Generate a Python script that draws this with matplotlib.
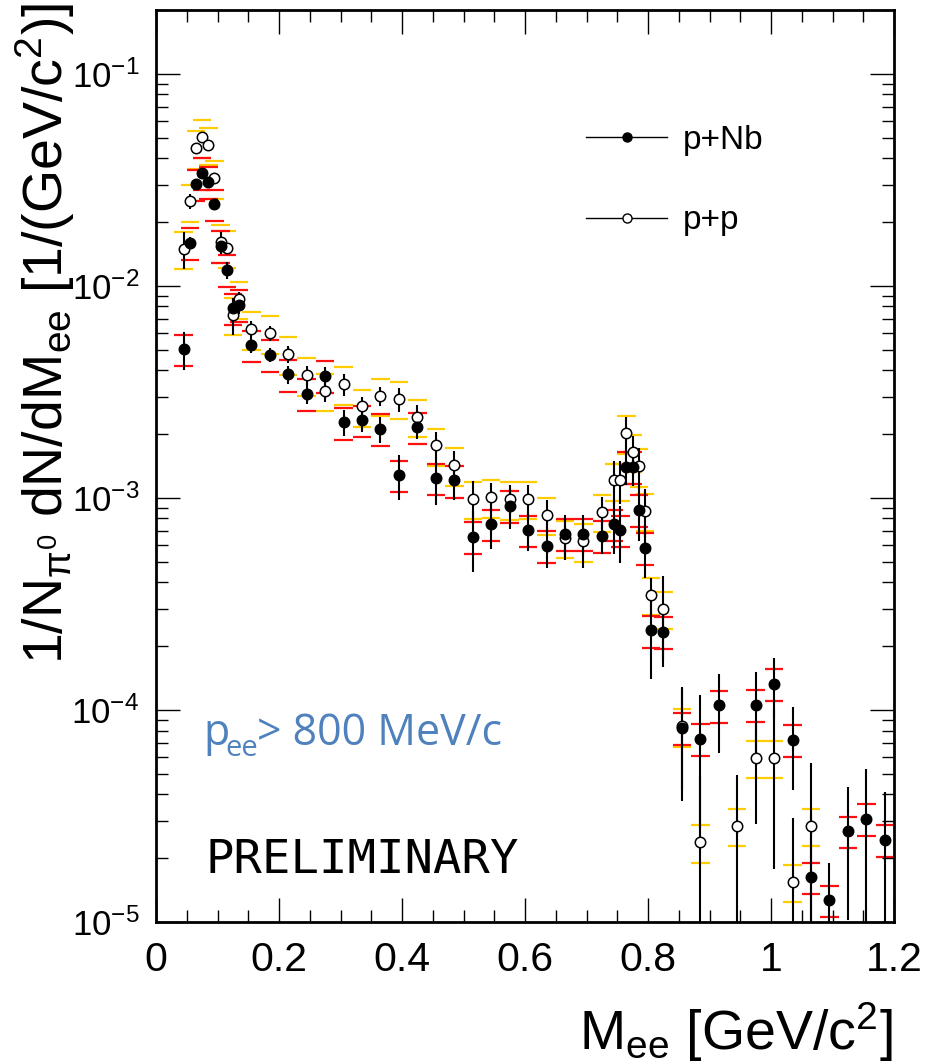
import numpy as np
import matplotlib
matplotlib.use("Agg")
import matplotlib.pyplot as plt
from matplotlib.ticker import FixedLocator, FixedFormatter, MultipleLocator, LogLocator, NullFormatter
from matplotlib.lines import Line2D

# ---------------- data ----------------
mass = [0.045, 0.055, 0.065, 0.075, 0.085, 0.095, 0.105, 0.115, 0.125, 0.135,
        0.155, 0.185, 0.215, 0.245, 0.275, 0.305, 0.335, 0.365, 0.395, 0.425,
        0.455, 0.485, 0.515, 0.545, 0.575, 0.605, 0.635, 0.665, 0.695, 0.725,
        0.745, 0.755, 0.765, 0.775, 0.785, 0.795, 0.805, 0.825,
        0.855, 0.885, 0.915, 0.945, 0.975, 1.005, 1.035, 1.065, 1.095, 1.125, 1.155, 1.185]

pNb = [5.04e-3, 1.60e-2, 3.02e-2, 3.42e-2, 3.10e-2, 2.43e-2, 1.55e-2, 1.19e-2, 7.85e-3, 8.16e-3,
       5.26e-3, 4.73e-3, 3.82e-3, 3.10e-3, 3.77e-3, 2.27e-3, 2.33e-3, 2.12e-3, 1.28e-3, 2.16e-3,
       1.24e-3, 1.21e-3, 6.57e-4, 7.52e-4, 9.17e-4, 7.06e-4, 5.96e-4, 6.79e-4, 6.79e-4, 6.64e-4,
       7.52e-4, 7.06e-4, 1.40e-3, 1.40e-3, 8.78e-4, 5.83e-4, 2.37e-4, 2.34e-4,
       8.25e-5, 7.30e-5, 1.05e-4, np.nan, 1.06e-4, 1.33e-4, 7.24e-5, 1.63e-5, 1.27e-5, 2.68e-5, 3.07e-5, 2.44e-5]

pp = [1.50e-2, 2.50e-2, 4.46e-2, 5.03e-2, 4.62e-2, 3.22e-2, 1.61e-2, 1.51e-2, 7.30e-3, 8.70e-3,
      6.25e-3, 5.98e-3, 4.76e-3, 3.79e-3, 3.21e-3, 3.44e-3, 2.70e-3, 3.03e-3, 2.93e-3, 2.42e-3,
      1.77e-3, 1.43e-3, 9.89e-4, 1.01e-3, 9.86e-4, 9.93e-4, 8.32e-4, 6.50e-4, 6.25e-4, 8.62e-4,
      1.21e-3, 1.21e-3, 2.02e-3, 1.65e-3, 1.41e-3, 8.70e-4, 3.49e-4, 3.00e-4,
      8.40e-5, 2.38e-5, np.nan, 2.85e-5, 5.94e-5, 5.94e-5, 1.55e-5, 2.85e-5, np.nan, np.nan, np.nan, np.nan]

# relative statistical errors
pNb_stat = [0.20, 0.06, 0.04, 0.04, 0.04, 0.06, 0.08, 0.09, 0.10, 0.10,
            0.08, 0.08, 0.10, 0.11, 0.10, 0.14, 0.12, 0.14, 0.24, 0.12,
            0.25, 0.19, 0.32, 0.24, 0.22, 0.20, 0.22, 0.22, 0.22, 0.18,
            0.28, 0.30, 0.18, 0.19, 0.29, 0.28, 0.41, 0.32,
            0.55, 0.62, 0.40, np.nan, 0.43, 0.32, 0.42, 1.00, 0.50, 0.62, 0.72, 0.68]
pp_stat = [0.20, 0.08, 0.04, 0.04, 0.04, 0.05, 0.12, 0.06, 0.20, 0.08,
           0.09, 0.08, 0.09, 0.11, 0.12, 0.12, 0.11, 0.10, 0.13, 0.13,
           0.15, 0.17, 0.21, 0.17, 0.17, 0.16, 0.18, 0.22, 0.25, 0.17,
           0.23, 0.23, 0.19, 0.19, 0.22, 0.26, 0.20, 0.42,
           0.50, 1.05, np.nan, 0.73, 0.51, 0.70, 1.00, 0.98, np.nan, np.nan, np.nan, np.nan]

# relative systematic errors
pNb_sys = 0.17
pp_sys = 0.20
sys_halfwidth = 0.015

xticks = [0, 0.2, 0.4, 0.6, 0.8, 1.0, 1.2]
xtick_labels = ["0", "0.2", "0.4", "0.6", "0.8", "1", "1.2"]
yticks = [1e-5, 1e-4, 1e-3, 1e-2, 1e-1]
ytick_labels = [r"$10^{-5}$", r"$10^{-4}$", r"$10^{-3}$", r"$10^{-2}$", r"$10^{-1}$"]

# ---------------- style ----------------
plt.rcParams.update({
    "font.family": ["Liberation Sans", "DejaVu Sans"],
    "mathtext.fontset": "custom",
    "mathtext.rm": "Liberation Sans",
    "mathtext.it": "Liberation Sans",
    "mathtext.bf": "Liberation Sans:bold",
    "mathtext.default": "regular",
})

W, H = 926, 1063
fig = plt.figure(figsize=(W / 100, H / 100), dpi=100)
ax = fig.add_axes([156 / W, 1 - 922 / H, (894 - 156) / W, (922 - 10) / H])
ax.set_yscale("log")
ax.set_xlim(0, 1.2)
ax.set_ylim(1e-5, 0.2)

x = np.array(mass)
series = [
    (np.array(pp), np.array(pp_stat), pp_sys, "#FFCC00", "white", 3),
    (np.array(pNb), np.array(pNb_stat), pNb_sys, "#FF1010", "black", 4),
]

# systematic bars
for vals, stat, sysf, col, face, z in series:
    m = ~np.isnan(vals)
    for f in (1 + sysf, 1 - sysf):
        ax.hlines(vals[m] * f, x[m] - sys_halfwidth, x[m] + sys_halfwidth,
                  color=col, lw=1.6, zorder=1)

# statistical error bars
for vals, stat, sysf, col, face, z in series:
    m = ~np.isnan(vals)
    lo = np.maximum(vals[m] * (1 - stat[m]), 1e-9)
    hi = vals[m] * (1 + stat[m])
    ax.vlines(x[m], lo, hi, color="black", lw=1.5, zorder=2)

# markers
for vals, stat, sysf, col, face, z in series:
    ax.plot(x, vals, linestyle="none", marker="o", ms=7.5, mfc=face, mec="black",
            mew=1.1, zorder=z)

# ticks
ax.xaxis.set_major_locator(FixedLocator(xticks))
ax.xaxis.set_major_formatter(FixedFormatter(xtick_labels))
ax.xaxis.set_minor_locator(MultipleLocator(0.05))
ax.yaxis.set_major_locator(FixedLocator(yticks))
ax.yaxis.set_major_formatter(FixedFormatter(ytick_labels))
ax.yaxis.set_minor_locator(LogLocator(base=10, subs=np.arange(2, 10)))
ax.yaxis.set_minor_formatter(NullFormatter())
ax.tick_params(which="both", direction="in", top=True, right=True, width=1.0)
ax.tick_params(which="major", length=17)
ax.tick_params(which="minor", length=8.5)
ax.tick_params(axis="x", pad=14, labelsize=29.5)
ax.tick_params(axis="y", pad=12, labelsize=25)
for s in ax.spines.values():
    s.set_linewidth(2.0)

# axis titles
fig.text(45 / W, 1 - 3 / H, r"$1/N_{\pi^{0}}\ dN/dM_{ee}\ [1/(GeV/c^{2})]$",
         rotation=90, ha="center", va="top", fontsize=40)
fig.text(893 / W, 1 - 1050 / H, r"$M_{ee}\ [GeV/c^{2}]$", ha="right", va="baseline", fontsize=40)

# legend
handles = [Line2D([], [], color="black", lw=1.0, marker="o", ms=6.5, mfc="black", mec="black"),
           Line2D([], [], color="black", lw=1.0, marker="o", ms=6.5, mfc="white", mec="black")]
ax.legend(handles, ["p+Nb", "p+p"], loc="upper left", bbox_to_anchor=(0.5827, 0.874),
          frameon=False, fontsize=24, handlelength=2.43, handletextpad=0.48,
          labelspacing=1.48, borderpad=0, borderaxespad=0, numpoints=1)

# annotations
blue = "#4F81BD"
fig.text(203 / W, 1 - 745 / H, "p", color=blue, fontsize=31, family="Open Sans", va="baseline")
fig.text(225 / W, 1 - 756 / H, "ee", color=blue, fontsize=21, family="Open Sans", va="baseline")
fig.text(257 / W, 1 - 745 / H, "> 800 MeV/c", color=blue, fontsize=31, family="Open Sans", va="baseline")
fig.text(206 / W, 1 - 873 / H, "PRELIMINARY", color="black", fontsize=34,
         family="DejaVu Sans Mono", va="baseline")

fig.savefig("out.png", dpi=100)
